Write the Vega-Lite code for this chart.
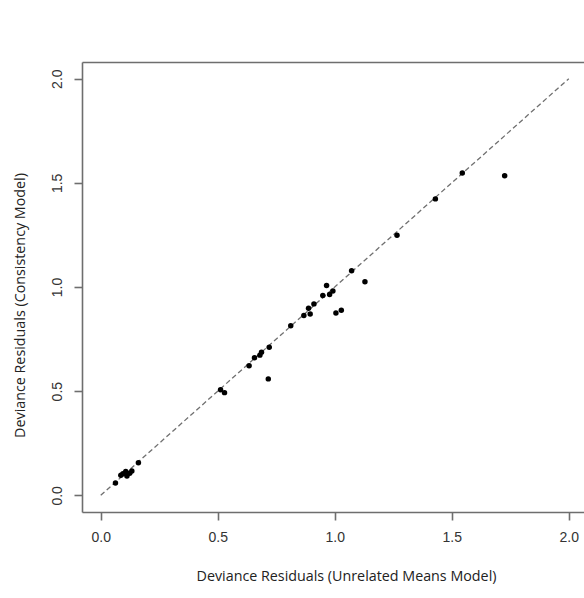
{
  "$schema": "https://vega.github.io/schema/vega-lite/v6.json",
  "autosize": "none",
  "padding": {"left": 82, "top": 62, "right": 0, "bottom": 86},
  "width": 502,
  "height": 450,
  "background": "white",
  "config": {
    "view": {"stroke": null},
    "axis": {
      "domainColor": "#6e6e6e",
      "domainWidth": 1.6,
      "tickColor": "#6e6e6e",
      "tickWidth": 1.6,
      "tickSize": 8,
      "grid": false,
      "labelFont": "Liberation Sans",
      "labelFontSize": 14,
      "labelColor": "#333333",
      "titleFont": "Open Sans",
      "titleFontSize": 14.3,
      "titleFontWeight": "normal",
      "titleColor": "#222222"
    }
  },
  "datasets": {
    "points": [
      {"unrelated": 0.063, "consistency": 0.059},
      {"unrelated": 0.086, "consistency": 0.096},
      {"unrelated": 0.095, "consistency": 0.104},
      {"unrelated": 0.107, "consistency": 0.114},
      {"unrelated": 0.112, "consistency": 0.093},
      {"unrelated": 0.124, "consistency": 0.106},
      {"unrelated": 0.133, "consistency": 0.117},
      {"unrelated": 0.161, "consistency": 0.156},
      {"unrelated": 0.512, "consistency": 0.507},
      {"unrelated": 0.529, "consistency": 0.493},
      {"unrelated": 0.634, "consistency": 0.622},
      {"unrelated": 0.657, "consistency": 0.660},
      {"unrelated": 0.680, "consistency": 0.673},
      {"unrelated": 0.687, "consistency": 0.687},
      {"unrelated": 0.716, "consistency": 0.559},
      {"unrelated": 0.720, "consistency": 0.711},
      {"unrelated": 0.812, "consistency": 0.814},
      {"unrelated": 0.868, "consistency": 0.863},
      {"unrelated": 0.895, "consistency": 0.870},
      {"unrelated": 0.888, "consistency": 0.898},
      {"unrelated": 0.911, "consistency": 0.919},
      {"unrelated": 0.949, "consistency": 0.959},
      {"unrelated": 0.978, "consistency": 0.964},
      {"unrelated": 0.992, "consistency": 0.981},
      {"unrelated": 0.965, "consistency": 1.007},
      {"unrelated": 1.005, "consistency": 0.875},
      {"unrelated": 1.028, "consistency": 0.888},
      {"unrelated": 1.072, "consistency": 1.078},
      {"unrelated": 1.129, "consistency": 1.025},
      {"unrelated": 1.266, "consistency": 1.248},
      {"unrelated": 1.430, "consistency": 1.423},
      {"unrelated": 1.545, "consistency": 1.547},
      {"unrelated": 1.726, "consistency": 1.534}
    ],
    "refline": [
      {"unrelated": 0, "consistency": 0},
      {"unrelated": 2, "consistency": 2}
    ]
  },
  "resolve": {"axis": {"x": "independent"}},
  "layer": [
    {
      "data": {"name": "refline"},
      "mark": {"type": "line", "color": "#707070", "strokeWidth": 1.3, "strokeDash": [5, 3]},
      "encoding": {
        "x": {"field": "unrelated", "type": "quantitative",
              "scale": {"domain": [-0.08, 2.065], "nice": false, "zero": false},
              "axis": {"orient": "top", "labels": false, "ticks": false, "title": null}},
        "y": {"field": "consistency", "type": "quantitative",
              "scale": {"domain": [-0.08, 2.08], "nice": false, "zero": false},
              "axis": {"values": [0, 0.5, 1, 1.5, 2], "format": ".1f",
                       "labelAngle": -90, "labelAlign": "center", "labelBaseline": "bottom",
                       "labelPadding": 10, "labelFlush": false,
                       "title": "Deviance Residuals (Consistency Model)",
                       "titleAngle": -90, "titleX": -62, "titleY": 243,
                       "titleAlign": "center", "titleBaseline": "middle"}}
      }
    },
    {
      "data": {"name": "points"},
      "mark": {"type": "circle", "color": "black", "opacity": 1, "size": 30},
      "encoding": {
        "x": {"field": "unrelated", "type": "quantitative",
              "scale": {"domain": [-0.08, 2.065], "nice": false, "zero": false},
              "axis": {"orient": "bottom", "values": [0, 0.5, 1, 1.5, 2], "format": ".1f",
                       "labelPadding": 10, "labelFlush": false,
                       "title": "Deviance Residuals (Unrelated Means Model)",
                       "titleX": 264, "titleY": 64, "titleBaseline": "middle", "titleAnchor": null}},
        "y": {"field": "consistency", "type": "quantitative",
              "scale": {"domain": [-0.08, 2.08], "nice": false, "zero": false},
              "axis": {"values": [0, 0.5, 1, 1.5, 2], "format": ".1f",
                       "labelAngle": -90, "labelAlign": "center", "labelBaseline": "bottom",
                       "labelPadding": 10, "labelFlush": false,
                       "title": "Deviance Residuals (Consistency Model)",
                       "titleAngle": -90, "titleX": -62, "titleY": 243,
                       "titleAlign": "center", "titleBaseline": "middle"}}
      }
    }
  ]
}
